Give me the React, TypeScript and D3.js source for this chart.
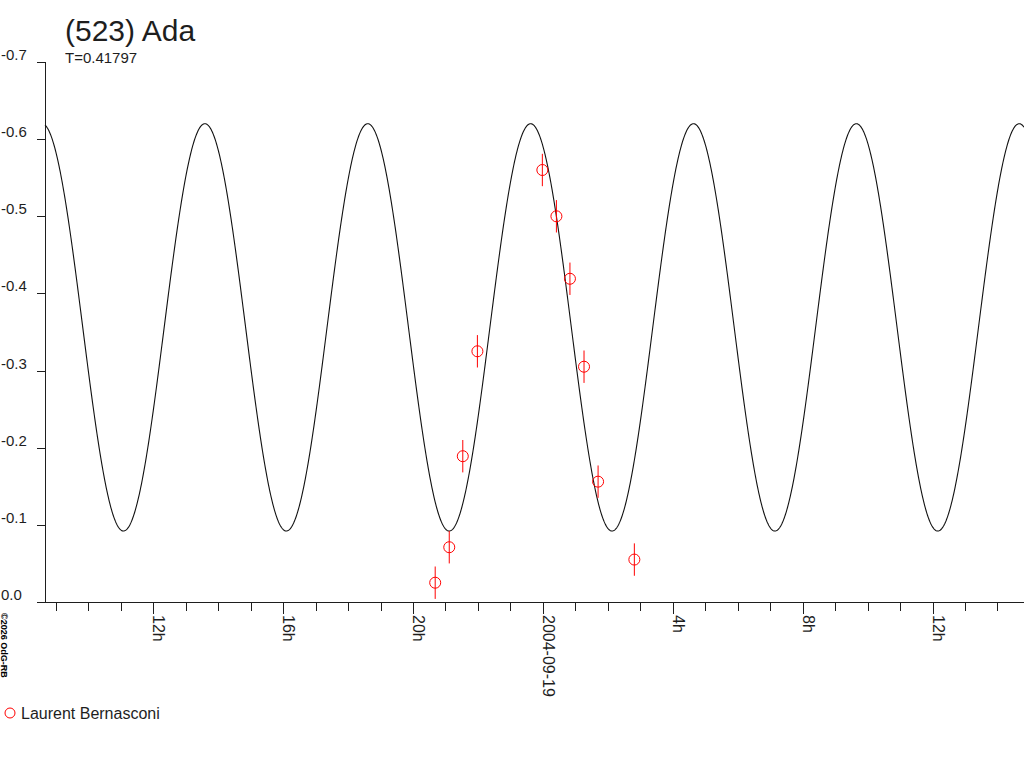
import React from 'react';
import * as d3 from 'd3';

// Observations (UTC), reduced magnitude and error
const obsTimes = [
  '2004-09-18T20:41:00Z', '2004-09-18T21:07:00Z', '2004-09-18T21:32:00Z', '2004-09-18T21:59:00Z',
  '2004-09-18T23:59:00Z', '2004-09-19T00:25:00Z', '2004-09-19T00:50:00Z', '2004-09-19T01:16:00Z',
  '2004-09-19T01:42:00Z', '2004-09-19T02:49:00Z',
];
const obsMags = [-0.025, -0.071, -0.189, -0.325, -0.56, -0.5, -0.419, -0.305, -0.156, -0.055];
const obsErrs = [0.021, 0.021, 0.021, 0.021, 0.021, 0.021, 0.021, 0.021, 0.021, 0.021];

// Fitted lightcurve: period (days), mean, amplitude, epoch of a maximum
const PERIOD_DAYS = 0.41797;
const FIT_MEAN = -0.356;
const FIT_AMP = 0.264;
const FIT_EPOCH = '2004-09-18T23:37:20Z';

const xDomain = ['2004-09-18T08:40:00Z', '2004-09-19T14:49:00Z'];
const xMajorTicks = [
  '2004-09-18T12:00:00Z', '2004-09-18T16:00:00Z', '2004-09-18T20:00:00Z', '2004-09-19T00:00:00Z',
  '2004-09-19T04:00:00Z', '2004-09-19T08:00:00Z', '2004-09-19T12:00:00Z',
];
const xMajorLabels = ['12h', '16h', '20h', '2004-09-19', '4h', '8h', '12h'];
const yTicks = [0, -0.1, -0.2, -0.3, -0.4, -0.5, -0.6, -0.7];
const yTickLabels = ['0.0', '-0.1', '-0.2', '-0.3', '-0.4', '-0.5', '-0.6', '-0.7'];

const title = '(523) Ada';
const subtitle = 'T=0.41797';
const observer = 'Laurent Bernasconi';
const copyright = '\u00a92026 OdG-RB';

const W = 1024;
const H = 768;
const FONT = '"Liberation Sans", Arial, sans-serif';
const INK = '#1e1e1e';

export default function App() {
  const x = d3.scaleUtc()
    .domain(xDomain.map((d) => new Date(d)))
    .range([45, 1024]);
  const y = d3.scaleLinear().domain([0, -0.7]).range([602, 62]);

  const hourTicks = x.ticks(d3.utcHour.every(1)!);
  const majorSet = new Set(xMajorTicks.map((d) => +new Date(d)));

  const epoch = +new Date(FIT_EPOCH);
  const periodMs = PERIOD_DAYS * 86400000;
  const [t0, t1] = x.domain().map(Number);
  const samples = d3.range(t0, t1, 60000).concat([t1]);
  const fitLine = d3.line<number>()
    .x((t) => x(new Date(t)))
    .y((t) => y(FIT_MEAN - FIT_AMP * Math.cos((4 * Math.PI * (t - epoch)) / periodMs)));

  const points = obsTimes.map((t, i) => ({ t: new Date(t), m: obsMags[i], e: obsErrs[i] }));

  return (
    <svg width={W} height={H} style={{ position: 'absolute', left: 0, top: 0, background: '#fff' }}>
      <rect width={W} height={H} fill="#fff" />

      {/* title */}
      <text x={65} y={41} fontFamily={FONT} fontSize={30} fill={INK}>{title}</text>
      <text x={65} y={63} fontFamily={FONT} fontSize={15} fill={INK}>{subtitle}</text>

      {/* y axis */}
      <g shapeRendering="crispEdges" stroke={INK}>
        <line x1={45.5} x2={45.5} y1={y(-0.7)} y2={y(0)} />
        {yTicks.map((v) => (
          <line key={v} x1={37} x2={45} y1={Math.round(y(v)) + 0.5} y2={Math.round(y(v)) + 0.5} />
        ))}
        <line x1={37} x2={1024} y1={602.5} y2={602.5} />
        {hourTicks.map((d) => (
          <line key={+d} x1={Math.round(x(d)) + 0.5} x2={Math.round(x(d)) + 0.5} y1={603}
            y2={majorSet.has(+d) ? 614 : 611} />
        ))}
      </g>
      {yTicks.map((v, i) => (
        <text key={v} x={1} y={y(v) - 2} fontFamily={FONT} fontSize={15} fill={INK}>{yTickLabels[i]}</text>
      ))}
      {xMajorTicks.map((d, i) => {
        const px = Math.round(x(new Date(d)));
        return (
          <text key={d} transform={`translate(${px},615) rotate(90)`} fontFamily={FONT} fontSize={16} fill={INK}>
            {xMajorLabels[i]}
          </text>
        );
      })}

      {/* fitted curve */}
      <path d={fitLine(samples) || ''} fill="none" stroke="#111" strokeWidth={1.1} />

      {/* observations */}
      {points.map((p, i) => (
        <g key={i} stroke="#f00" fill="none">
          <line x1={x(p.t)} x2={x(p.t)} y1={y(p.m - p.e)} y2={y(p.m + p.e)} />
          <circle cx={x(p.t)} cy={y(p.m)} r={5.5} />
        </g>
      ))}

      {/* legend */}
      <circle cx={10} cy={713} r={5} fill="none" stroke="#f00" />
      <text x={21} y={719} fontFamily={FONT} fontSize={16} fill={INK}>{observer}</text>

      {/* copyright */}
      <text transform="translate(1,613) rotate(90)" fontFamily={FONT} fontSize={9} fontWeight="bold" fill="#000">
        {copyright}
      </text>
    </svg>
  );
}
